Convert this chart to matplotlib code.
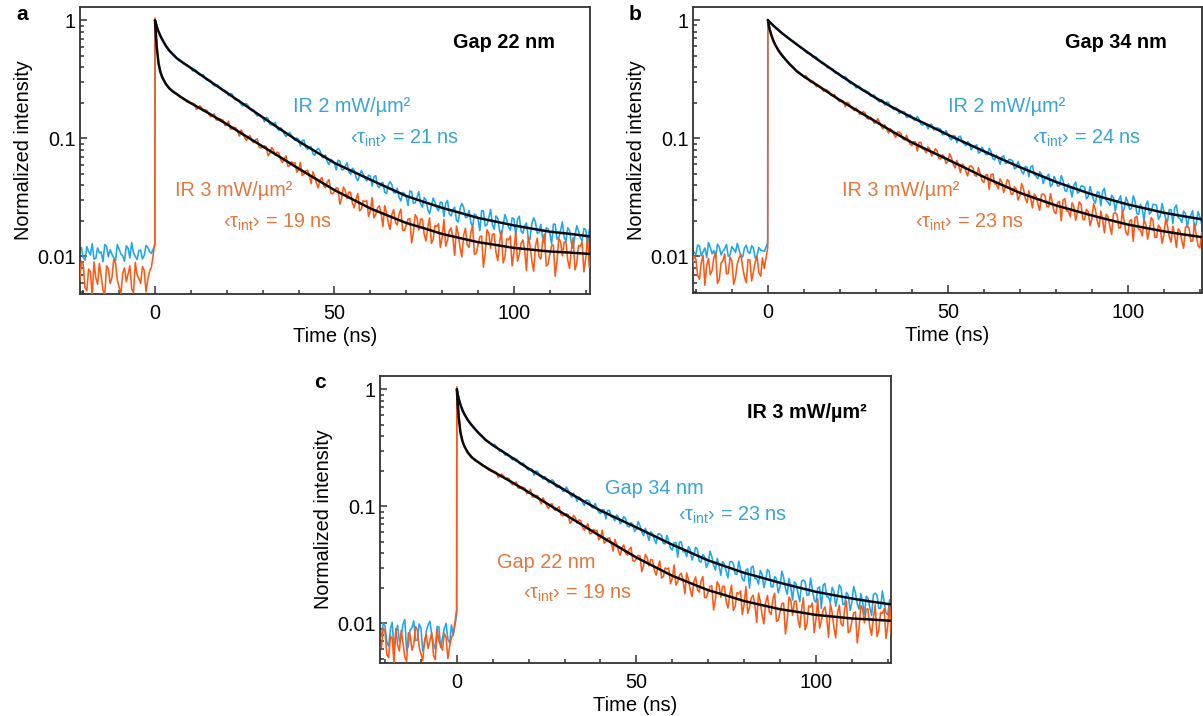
import matplotlib
matplotlib.use("Agg")
import matplotlib.pyplot as plt
from matplotlib.ticker import LogLocator, NullFormatter, MultipleLocator, FixedLocator, FixedFormatter

plt.rcParams['font.family'] = ['Liberation Sans', 'DejaVu Sans']
plt.rcParams['mathtext.fontset'] = 'custom'
plt.rcParams['mathtext.rm'] = 'Liberation Sans'
plt.rcParams['mathtext.it'] = 'Liberation Sans:italic'

# ---------------- data ----------------
# time grid of the measured traces (ns): background, rise edge, decay (1 ns samples)
trace_t = list(range(-21, 0)) + [-0.05] + list(range(0, 122))
# intermediate samples (half-ns offsets) in background and decay
half_t = [x + 0.5 for x in range(-21, -1)] + [x + 0.5 for x in range(10, 121)]

gap22_ir2_trace = [0.0112, 0.0098, 0.0121, 0.0103, 0.0095, 0.0118, 0.0109, 0.0126, 0.0099, 0.0104, 0.0092,
                   0.0115, 0.0101, 0.0123, 0.0097, 0.0108, 0.0094, 0.0113, 0.0102, 0.0119, 0.0106, 0.0125,
                   1.02, 0.810, 0.685, 0.612, 0.547, 0.520, 0.486, 0.453, 0.429, 0.416, 0.394,
                   0.385, 0.353, 0.345, 0.323, 0.315, 0.289, 0.281, 0.272, 0.252, 0.249,
                   0.240, 0.218, 0.212, 0.194, 0.196, 0.189, 0.172, 0.161, 0.160, 0.150,
                   0.151, 0.132, 0.133, 0.1225, 0.123, 0.109, 0.108, 0.1066, 0.096, 0.0983,
                   0.0957, 0.0839, 0.0845, 0.0742, 0.0797, 0.0780, 0.0688, 0.0636, 0.0664, 0.0616,
                   0.0654, 0.0544, 0.0577, 0.0524, 0.0559, 0.0468, 0.0484, 0.0498, 0.0437, 0.0479,
                   0.0471, 0.0396, 0.0415, 0.0350, 0.0406, 0.0406, 0.0345, 0.0316, 0.0350, 0.0321,
                   0.0359, 0.0282, 0.0315, 0.0281, 0.0315, 0.0250, 0.0269, 0.0288, 0.0243, 0.0285,
                   0.0283, 0.0229, 0.0250, 0.0202, 0.0255, 0.0260, 0.0215, 0.0194, 0.0229, 0.0209,
                   0.0245, 0.0181, 0.0213, 0.0186, 0.0220, 0.0164, 0.0185, 0.0204, 0.0167, 0.0208,
                   0.0206, 0.0164, 0.0182, 0.0144, 0.0190, 0.0196, 0.0159, 0.0143, 0.0175, 0.0159,
                   0.0188, 0.0140, 0.0166, 0.0146, 0.0175, 0.0130, 0.0148, 0.0165, 0.0135, 0.0169,
                   0.0168]
gap22_ir2_half = [0.0119, 0.0093, 0.0110, 0.0128, 0.0096, 0.0107, 0.0090, 0.0122, 0.0114, 0.0098,
                  0.0126, 0.0105, 0.0091, 0.0117, 0.0131, 0.0100, 0.0112, 0.0095, 0.0124, 0.0109,
                  0.373, 0.3765, 0.3456, 0.3457, 0.3113, 0.3062, 0.2789, 0.2832, 0.2607, 0.2553,
                  0.2302, 0.2377, 0.2111, 0.2101, 0.1886, 0.1969, 0.1758, 0.1743, 0.1547, 0.1560,
                  0.1382, 0.1474, 0.1302, 0.1370, 0.1169, 0.1189, 0.1037, 0.1125, 0.1001, 0.1009,
                  0.0861, 0.0968, 0.0808, 0.0849, 0.0719, 0.0825, 0.0697, 0.0723, 0.0601, 0.0646,
                  0.0541, 0.0643, 0.0543, 0.0622, 0.0495, 0.0537, 0.0438, 0.0534, 0.0458, 0.0489,
                  0.0394, 0.0484, 0.0382, 0.0424, 0.0341, 0.0431, 0.0347, 0.0378, 0.0295, 0.0340,
                  0.0270, 0.0354, 0.0285, 0.0354, 0.0261, 0.0301, 0.0230, 0.0312, 0.0257, 0.0289,
                  0.0218, 0.0298, 0.0220, 0.0261, 0.0196, 0.0281, 0.0213, 0.0246, 0.0177, 0.0223,
                  0.0165, 0.0243, 0.0185, 0.0250, 0.0170, 0.0210, 0.0147, 0.0226, 0.0178, 0.0212,
                  0.0151, 0.0219, 0.0157, 0.0192, 0.0140, 0.0212, 0.0157, 0.0187, 0.0129, 0.0171,
                  0.0127, 0.0187, 0.0144, 0.0196, 0.0134, 0.0166, 0.0117, 0.0182, 0.0144, 0.0172,
                  0.0124]

gap22_ir3_trace = [0.0062, 0.0085, 0.0051, 0.0074, 0.0090, 0.0058, 0.0068, 0.0047, 0.0079, 0.0066, 0.0088,
                   0.0055, 0.0072, 0.0061, 0.0083, 0.0049, 0.0070, 0.0059, 0.0076, 0.0064, 0.0081, 0.0130,
                   1.05, 0.423, 0.333, 0.289, 0.270, 0.2465, 0.239, 0.224, 0.219, 0.203, 0.198,
                   0.195, 0.180, 0.182, 0.175, 0.160, 0.157, 0.144, 0.147, 0.143, 0.130,
                   0.120, 0.124, 0.115, 0.118, 0.1015, 0.1033, 0.0950, 0.0971, 0.0845, 0.0845,
                   0.0852, 0.0747, 0.0800, 0.0766, 0.0662, 0.0672, 0.0582, 0.0635, 0.0622, 0.0542,
                   0.0485, 0.0532, 0.0484, 0.0521, 0.0415, 0.0446, 0.0396, 0.0428, 0.0343, 0.0357,
                   0.0377, 0.0311, 0.0365, 0.0351, 0.0284, 0.0302, 0.0244, 0.0297, 0.0297, 0.0244,
                   0.0212, 0.0258, 0.0230, 0.0269, 0.0193, 0.0227, 0.0194, 0.0229, 0.0166, 0.0185,
                   0.0209, 0.0160, 0.0212, 0.0207, 0.0154, 0.0176, 0.0129, 0.0183, 0.0189, 0.0145,
                   0.0122, 0.0165, 0.0144, 0.0181, 0.0118, 0.0152, 0.0125, 0.0160, 0.0104, 0.0125,
                   0.0149, 0.0107, 0.0157, 0.0154, 0.0108, 0.0131, 0.0088, 0.0141, 0.0149, 0.0108,
                   0.0091, 0.0129, 0.0113, 0.0147, 0.0092, 0.0122, 0.0099, 0.0134, 0.0083, 0.0104,
                   0.0125, 0.0091, 0.0133, 0.0132, 0.0093, 0.0113, 0.0077, 0.0124, 0.0133, 0.0096,
                   0.0081]
gap22_ir3_half = [0.0091, 0.0054, 0.0078, 0.0046, 0.0066, 0.0087, 0.0052, 0.0083, 0.0059, 0.0094,
                  0.0063, 0.0048, 0.0080, 0.0071, 0.0053, 0.0089, 0.0065, 0.0082, 0.0050, 0.0075,
                  0.1985, 0.1763, 0.1886, 0.1709, 0.1725, 0.1528, 0.1613, 0.1426, 0.1444, 0.1285,
                  0.1400, 0.1204, 0.1235, 0.1048, 0.1103, 0.0959, 0.1053, 0.0921, 0.0991, 0.0829,
                  0.0865, 0.0714, 0.0837, 0.0720, 0.0752, 0.0624, 0.0711, 0.0586, 0.0619, 0.0518,
                  0.0626, 0.0498, 0.0538, 0.0414, 0.0474, 0.0381, 0.0467, 0.0382, 0.0447, 0.0339,
                  0.0381, 0.0277, 0.0387, 0.0309, 0.0348, 0.0258, 0.0341, 0.0251, 0.0291, 0.0218,
                  0.0315, 0.0227, 0.0268, 0.0179, 0.0236, 0.0169, 0.0249, 0.0185, 0.0251, 0.0166,
                  0.0207, 0.0130, 0.0226, 0.0167, 0.0207, 0.0135, 0.0212, 0.0139, 0.0179, 0.0119,
                  0.0206, 0.0137, 0.0174, 0.0102, 0.0154, 0.0099, 0.0173, 0.0119, 0.0181, 0.0106,
                  0.0147, 0.0081, 0.0168, 0.0117, 0.0155, 0.0092, 0.0165, 0.0099, 0.0138, 0.0083,
                  0.0163, 0.0104, 0.0138, 0.0076, 0.0124, 0.0075, 0.0143, 0.0095, 0.0155, 0.0086,
                  0.0123, 0.0068, 0.0142, 0.0101, 0.0133, 0.0079, 0.0144, 0.0087, 0.0122, 0.0074,
                  0.0145]

gap34_ir2_trace = [0.0115, 0.0104, 0.0122, 0.0109, 0.0098, 0.0119, 0.0112, 0.0127, 0.0103, 0.0116, 0.0100,
                   0.0121, 0.0108, 0.0114, 0.0099, 0.0124, 0.0106, 0.0117, 0.0102, 0.0113, 0.0110, 0.0130,
                   1.00, 0.926, 0.878, 0.811, 0.769, 0.735, 0.687, 0.662, 0.629, 0.588, 0.563,
                   0.523, 0.514, 0.492, 0.457, 0.430, 0.419, 0.396, 0.386, 0.355, 0.345,
                   0.323, 0.320, 0.290, 0.283, 0.276, 0.255, 0.255, 0.245, 0.226, 0.220,
                   0.203, 0.208, 0.202, 0.185, 0.174, 0.177, 0.166, 0.167, 0.151, 0.152,
                   0.142, 0.145, 0.129, 0.130, 0.130, 0.118, 0.123, 0.119, 0.108, 0.108,
                   0.0969, 0.1042, 0.1028, 0.0922, 0.0864, 0.0905, 0.0848, 0.0881, 0.0765, 0.0791,
                   0.0728, 0.0770, 0.0656, 0.0674, 0.0691, 0.0613, 0.0664, 0.0644, 0.0564, 0.0578,
                   0.0498, 0.0569, 0.0569, 0.0492, 0.0454, 0.0498, 0.0460, 0.0497, 0.0408, 0.0440,
                   0.0397, 0.0441, 0.0354, 0.0378, 0.0401, 0.0342, 0.0395, 0.0386, 0.0322, 0.0343,
                   0.0282, 0.0349, 0.0356, 0.0296, 0.0269, 0.0314, 0.0288, 0.0326, 0.0253, 0.0287,
                   0.0255, 0.0294, 0.0227, 0.0250, 0.0273, 0.0228, 0.0276, 0.0271, 0.0220, 0.0241,
                   0.0196, 0.0249, 0.0257, 0.0213, 0.0194, 0.0231, 0.0212, 0.0244, 0.0188, 0.0216,
                   0.0193]
gap34_ir2_half = [0.0108, 0.0125, 0.0101, 0.0118, 0.0131, 0.0105, 0.0097, 0.0120, 0.0111, 0.0126,
                  0.0103, 0.0115, 0.0129, 0.0100, 0.0118, 0.0109, 0.0123, 0.0096, 0.0119, 0.0112,
                  0.540, 0.527, 0.4846, 0.4847, 0.4449, 0.4325, 0.3963, 0.3898, 0.3598, 0.3585,
                  0.3293, 0.3334, 0.2979, 0.2952, 0.2668, 0.2750, 0.2525, 0.2501, 0.2272, 0.2325,
                  0.2090, 0.2116, 0.1900, 0.2017, 0.1804, 0.1820, 0.1620, 0.1658, 0.1501, 0.1584,
                  0.1434, 0.1525, 0.1317, 0.1358, 0.1200, 0.1315, 0.1183, 0.1209, 0.1070, 0.1159,
                  0.1006, 0.1057, 0.0916, 0.1042, 0.0901, 0.0937, 0.0798, 0.0856, 0.0748, 0.0839,
                  0.0730, 0.0823, 0.0671, 0.0719, 0.0601, 0.0712, 0.0620, 0.0656, 0.0550, 0.0635,
                  0.0522, 0.0576, 0.0471, 0.0587, 0.0479, 0.0520, 0.0413, 0.0472, 0.0390, 0.0475,
                  0.0393, 0.0482, 0.0361, 0.0412, 0.0318, 0.0425, 0.0353, 0.0392, 0.0307, 0.0391,
                  0.0299, 0.0351, 0.0268, 0.0376, 0.0288, 0.0330, 0.0242, 0.0301, 0.0233, 0.0317,
                  0.0250, 0.0325, 0.0231, 0.0276, 0.0202, 0.0294, 0.0238, 0.0275, 0.0205, 0.0281,
                  0.0209, 0.0249, 0.0189, 0.0272, 0.0208, 0.0242, 0.0176, 0.0223, 0.0171, 0.0240,
                  0.0189]

gap34_ir3_trace = [0.0078, 0.0095, 0.0064, 0.0102, 0.0083, 0.0070, 0.0098, 0.0059, 0.0088, 0.0105, 0.0072,
                   0.0091, 0.0066, 0.0097, 0.0081, 0.0060, 0.0093, 0.0075, 0.0100, 0.0068, 0.0079, 0.0118,
                   1.01, 0.747, 0.628, 0.548, 0.494, 0.463, 0.424, 0.401, 0.366, 0.352, 0.331,
                   0.325, 0.296, 0.288, 0.281, 0.260, 0.259, 0.247, 0.227, 0.221, 0.204,
                   0.206, 0.201, 0.1825, 0.171, 0.173, 0.162, 0.163, 0.145, 0.146, 0.1355,
                   0.1375, 0.120, 0.1205, 0.1205, 0.108, 0.113, 0.109, 0.0967, 0.0969, 0.0865,
                   0.0933, 0.0923, 0.0813, 0.0753, 0.0804, 0.0748, 0.0787, 0.0666, 0.0698, 0.0639,
                   0.0683, 0.0561, 0.0584, 0.0605, 0.0524, 0.0581, 0.0562, 0.0478, 0.0496, 0.0423,
                   0.0492, 0.0494, 0.0411, 0.0372, 0.0424, 0.0385, 0.0428, 0.0334, 0.0370, 0.0327,
                   0.0372, 0.0285, 0.0311, 0.0336, 0.0278, 0.0334, 0.0326, 0.0263, 0.0285, 0.0230,
                   0.0292, 0.0300, 0.0242, 0.0216, 0.0262, 0.0236, 0.0276, 0.0204, 0.0239, 0.0207,
                   0.0247, 0.0177, 0.0203, 0.0227, 0.0180, 0.0230, 0.0226, 0.0175, 0.0196, 0.0151,
                   0.0205, 0.0212, 0.0169, 0.0149, 0.0187, 0.0169, 0.0201, 0.0145, 0.0174, 0.0151,
                   0.0182, 0.0132, 0.0152, 0.0171, 0.0136, 0.0176, 0.0174, 0.0135, 0.0153, 0.0118,
                   0.0162]
gap34_ir3_half = [0.0101, 0.0069, 0.0089, 0.0057, 0.0096, 0.0076, 0.0108, 0.0064, 0.0092, 0.0071,
                  0.0099, 0.0058, 0.0086, 0.0104, 0.0067, 0.0094, 0.0062, 0.0090, 0.0073, 0.0097,
                  0.3392, 0.3071, 0.3032, 0.2727, 0.2733, 0.2492, 0.2542, 0.2315, 0.2345, 0.2096,
                  0.2094, 0.1846, 0.1985, 0.1787, 0.1801, 0.1592, 0.1686, 0.1482, 0.1507, 0.1340,
                  0.1463, 0.1263, 0.1297, 0.1104, 0.1164, 0.1016, 0.1122, 0.0984, 0.1060, 0.0892,
                  0.0935, 0.0780, 0.0922, 0.0801, 0.0844, 0.0708, 0.0815, 0.0678, 0.0725, 0.0612,
                  0.0740, 0.0602, 0.0649, 0.0512, 0.0583, 0.0479, 0.0581, 0.0483, 0.0564, 0.0438,
                  0.0488, 0.0368, 0.0498, 0.0407, 0.0453, 0.0347, 0.0447, 0.0339, 0.0388, 0.0300,
                  0.0413, 0.0312, 0.0359, 0.0257, 0.0322, 0.0245, 0.0338, 0.0264, 0.0340, 0.0239,
                  0.0287, 0.0200, 0.0308, 0.0241, 0.0284, 0.0202, 0.0289, 0.0206, 0.0251, 0.0182,
                  0.0279, 0.0199, 0.0242, 0.0158, 0.0216, 0.0153, 0.0235, 0.0174, 0.0243, 0.0158,
                  0.0200, 0.0134, 0.0219, 0.0168, 0.0203, 0.0140, 0.0213, 0.0145, 0.0184, 0.0129,
                  0.0206, 0.0147, 0.0180, 0.0119, 0.0163, 0.0117, 0.0181, 0.0134, 0.0189, 0.0123,
                  0.0158]

# fitted decay curves
fit_t = [0, 0.25, 0.5, 1, 1.5, 2, 3, 4, 5, 6, 8, 10, 15, 20, 25, 30, 35, 40, 45, 50, 55, 60,
         65, 70, 75, 80, 85, 90, 95, 100, 105, 110, 115, 121]
gap22_ir2_fit = [1.0, 0.94, 0.88, 0.80, 0.74, 0.69, 0.61, 0.555, 0.515, 0.48, 0.434, 0.395, 0.310, 0.244,
                 0.192, 0.151, 0.119, 0.0945, 0.0765, 0.062, 0.0526, 0.0447, 0.0381, 0.0325, 0.0289,
                 0.0258, 0.0234, 0.0212, 0.0197, 0.0183, 0.0172, 0.0162, 0.0156, 0.0148]
gap22_ir3_fit = [1.0, 0.74, 0.58, 0.43, 0.365, 0.33, 0.29, 0.265, 0.25, 0.238, 0.216, 0.199, 0.163, 0.132,
                 0.106, 0.0855, 0.069, 0.0555, 0.045, 0.0365, 0.0305, 0.0255, 0.0221, 0.0192, 0.0173,
                 0.0155, 0.0143, 0.0132, 0.0125, 0.0118, 0.0114, 0.0110, 0.0108, 0.0105]
gap34_ir2_fit = [1.0, 0.98, 0.965, 0.93, 0.90, 0.871, 0.82, 0.771, 0.731, 0.692, 0.623, 0.562, 0.437, 0.343,
                 0.272, 0.219, 0.180, 0.150, 0.127, 0.107, 0.0911, 0.0776, 0.0664, 0.0569, 0.0493,
                 0.0427, 0.0378, 0.0335, 0.0303, 0.0275, 0.0254, 0.0234, 0.0220, 0.0205]
gap34_ir3_fit = [1.0, 0.90, 0.83, 0.74, 0.67, 0.62, 0.55, 0.50, 0.46, 0.425, 0.37, 0.333, 0.265, 0.21,
                 0.17, 0.138, 0.112, 0.092, 0.0779, 0.066, 0.0557, 0.047, 0.0403, 0.0345, 0.0305,
                 0.027, 0.0245, 0.0222, 0.0203, 0.0186, 0.0174, 0.0163, 0.0154, 0.0145]

y_ticks = [0.01, 0.1, 1]
y_tick_labels = ["0.01", "0.1", "1"]
x_ticks = [0, 50, 100]

# ---------------- style ----------------
BLUE = '#1ca6ee'
ORANGE = '#ff5814'
BLUE_TXT = '#38a4d8'
ORANGE_TXT = '#e6763c'
FS = 14.3
W, H = 1203, 716

fig = plt.figure(figsize=(W / 100, H / 100), dpi=100)


def merged(full, half):
    pts = sorted(zip(trace_t + half_t, full + half), key=lambda p: p[0])
    return [p[0] for p in pts], [p[1] for p in pts]


def px_axes(l, t, r, b):
    return fig.add_axes([l / W, 1 - b / H, (r - l) / W, (b - t) / H])


def style(ax, xlim, ylim):
    ax.set_yscale('log')
    ax.set_xlim(*xlim)
    ax.set_ylim(*ylim)
    ax.yaxis.set_major_locator(FixedLocator(y_ticks))
    ax.yaxis.set_major_formatter(FixedFormatter(y_tick_labels))
    ax.yaxis.set_minor_locator(LogLocator(base=10, subs=range(2, 10)))
    ax.yaxis.set_minor_formatter(NullFormatter())
    ax.xaxis.set_major_locator(FixedLocator(x_ticks))
    ax.xaxis.set_minor_locator(MultipleLocator(10))
    for s in ax.spines.values():
        s.set_color('#333333')
        s.set_linewidth(1.3)
    ax.tick_params(which='both', direction='in', colors='#333333', labelcolor='black',
                   labelsize=FS, width=1.1)
    ax.tick_params(axis='x', which='major', length=5.5, pad=7.2)
    ax.tick_params(axis='x', which='minor', length=3.2)
    ax.tick_params(axis='y', which='major', length=5, pad=3)
    ax.tick_params(axis='y', which='minor', length=3.2)
    ax.set_xlabel('Time (ns)', fontsize=FS + 0.2, labelpad=3.2)
    ax.set_ylabel('Normalized intensity', fontsize=FS, labelpad=3)


def draw(ax, blue, orange, fit_blue, fit_orange):
    tb, vb = merged(*blue)
    to, vo = merged(*orange)
    ax.plot(tb, vb, color=BLUE, lw=1.15, zorder=2)
    ax.plot(to, vo, color=ORANGE, lw=1.15, zorder=3)
    ax.plot(fit_t, fit_blue, color='#0a0a14', lw=1.8, zorder=4, solid_capstyle='round')
    ax.plot(fit_t, fit_orange, color='#0a0a0a', lw=1.8, zorder=5, solid_capstyle='round')


def txt(x, y, s, color='black', bold=False, size=FS):
    fig.text(x / W, 1 - y / H, s, color=color, fontsize=size, ha='left', va='center',
             fontweight='bold' if bold else 'normal')


def tau(n):
    return '\u2039\u03c4$_{\\mathrm{int}}$\u203a = ' + str(n) + ' ns'


g22_ir2 = (gap22_ir2_trace, gap22_ir2_half)
g22_ir3 = (gap22_ir3_trace, gap22_ir3_half)
g34_ir2 = (gap34_ir2_trace, gap34_ir2_half)
g34_ir3 = (gap34_ir3_trace, gap34_ir3_half)

# panel a
ax_a = px_axes(80, 7, 590, 294)
style(ax_a, (-20.9, 121.2), (0.0048, 1.3))
draw(ax_a, g22_ir2, g22_ir3, gap22_ir2_fit, gap22_ir3_fit)

# panel b
ax_b = px_axes(693, 7, 1202, 293)
style(ax_b, (-20.8, 120.6), (0.0049, 1.29))
draw(ax_b, g34_ir2, g34_ir3, gap34_ir2_fit, gap34_ir3_fit)

# panel c
ax_c = px_axes(380, 376, 891, 663)
style(ax_c, (-21.4, 120.9), (0.00458, 1.30))
draw(ax_c, g34_ir3, g22_ir3, gap34_ir3_fit, gap22_ir3_fit)

# panel letters
txt(16, 15, 'a', bold=True, size=15)
txt(629, 15, 'b', bold=True, size=15)
txt(314, 383, 'c', bold=True, size=15)

# annotations a
txt(453, 42, 'Gap 22 nm', bold=True)
txt(293, 107, 'IR 2 mW/\u00b5m\u00b2', color=BLUE_TXT)
txt(350, 138, tau(21), color=BLUE_TXT)
txt(175, 190, 'IR 3 mW/\u00b5m\u00b2', color=ORANGE_TXT)
txt(223, 222, tau(19), color=ORANGE_TXT)

# annotations b
txt(1065, 43, 'Gap 34 nm', bold=True)
txt(948, 107, 'IR 2 mW/\u00b5m\u00b2', color=BLUE_TXT)
txt(1032, 138, tau(24), color=BLUE_TXT)
txt(842, 190, 'IR 3 mW/\u00b5m\u00b2', color=ORANGE_TXT)
txt(915, 222, tau(23), color=ORANGE_TXT)

# annotations c
txt(747, 413, 'IR 3 mW/\u00b5m\u00b2', bold=True)
txt(605, 488, 'Gap 34 nm', color=BLUE_TXT)
txt(678, 515, tau(23), color=BLUE_TXT)
txt(497, 563, 'Gap 22 nm', color=ORANGE_TXT)
txt(523, 593, tau(19), color=ORANGE_TXT)

fig.savefig('out.png', dpi=100)
